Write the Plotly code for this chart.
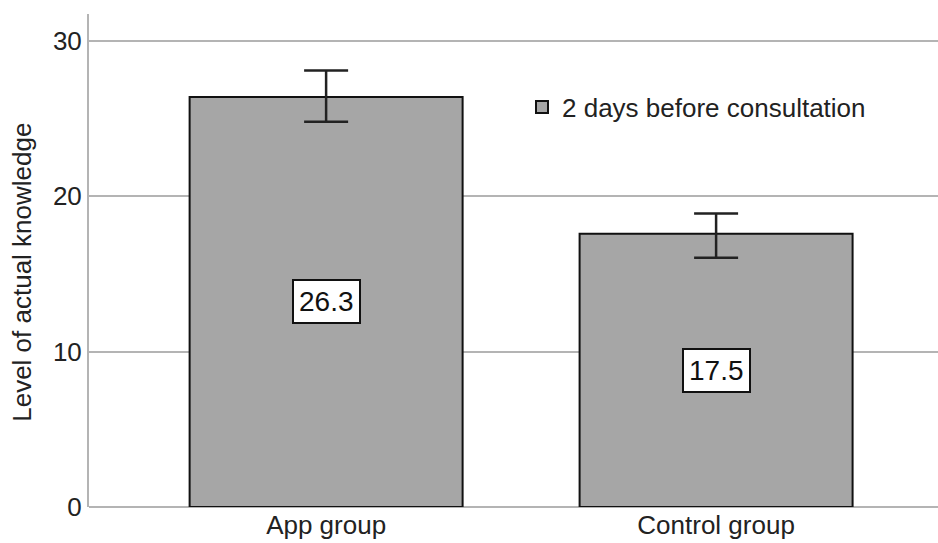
import plotly.graph_objects as go

categories = ["App group", "Control group"]
values = [26.3, 17.5]
bar_tops = [26.4, 17.6]
err_upper = [28.1, 18.9]
err_lower = [24.8, 16.05]
series_name = "2 days before consultation"
y_title = "Level of actual knowledge"
y_ticks = [0, 10, 20, 30]

plus = [u - t for u, t in zip(err_upper, bar_tops)]
minus = [t - l for t, l in zip(bar_tops, err_lower)]

FONT = "Liberation Sans, Arial"

fig = go.Figure()
fig.add_trace(go.Bar(
    x=categories, y=bar_tops, name=series_name,
    width=0.7,
    marker=dict(color="#a6a6a6", line=dict(color="#111111", width=2)),
    error_y=dict(type="data", symmetric=False, array=plus, arrayminus=minus,
                 color="#222222", thickness=2.5, width=22),
    showlegend=True,
))

for c, v, t in zip(categories, values, bar_tops):
    fig.add_annotation(x=c, y=t / 2, text=f"{v}", showarrow=False,
                       font=dict(size=28, color="#111111", family=FONT),
                       bgcolor="white", bordercolor="#111111", borderwidth=2, borderpad=5)

fig.add_annotation(xref="paper", yref="paper", x=-0.079, y=0.477, text=y_title,
                   textangle=-90, showarrow=False, xanchor="center", yanchor="middle",
                   font=dict(size=26, color="#222222", family=FONT))

fig.update_layout(
    width=938, height=543,
    margin=dict(l=89, r=0, t=14, b=36),
    plot_bgcolor="white", paper_bgcolor="white",
    font=dict(family=FONT, size=26, color="#222222"),
    showlegend=True,
    legend=dict(x=0.51, y=0.811, xanchor="left", yanchor="middle",
                bgcolor="rgba(0,0,0,0)", font=dict(size=26)),
    xaxis=dict(range=[-0.608, 1.569], showgrid=False, showline=False,
               ticks="", tickfont=dict(size=26)),
    yaxis=dict(range=[0, 31.74], tickvals=y_ticks, showgrid=True, gridcolor="#b4b4b4",
               gridwidth=2, showline=True, linecolor="#b4b4b4", linewidth=2,
               zeroline=True, zerolinecolor="#b4b4b4", zerolinewidth=2,
               ticks="", tickfont=dict(size=26)),
)

fig.write_html("out.html", config={"displayModeBar": False},
               post_script="document.body.style.margin='0px';")
